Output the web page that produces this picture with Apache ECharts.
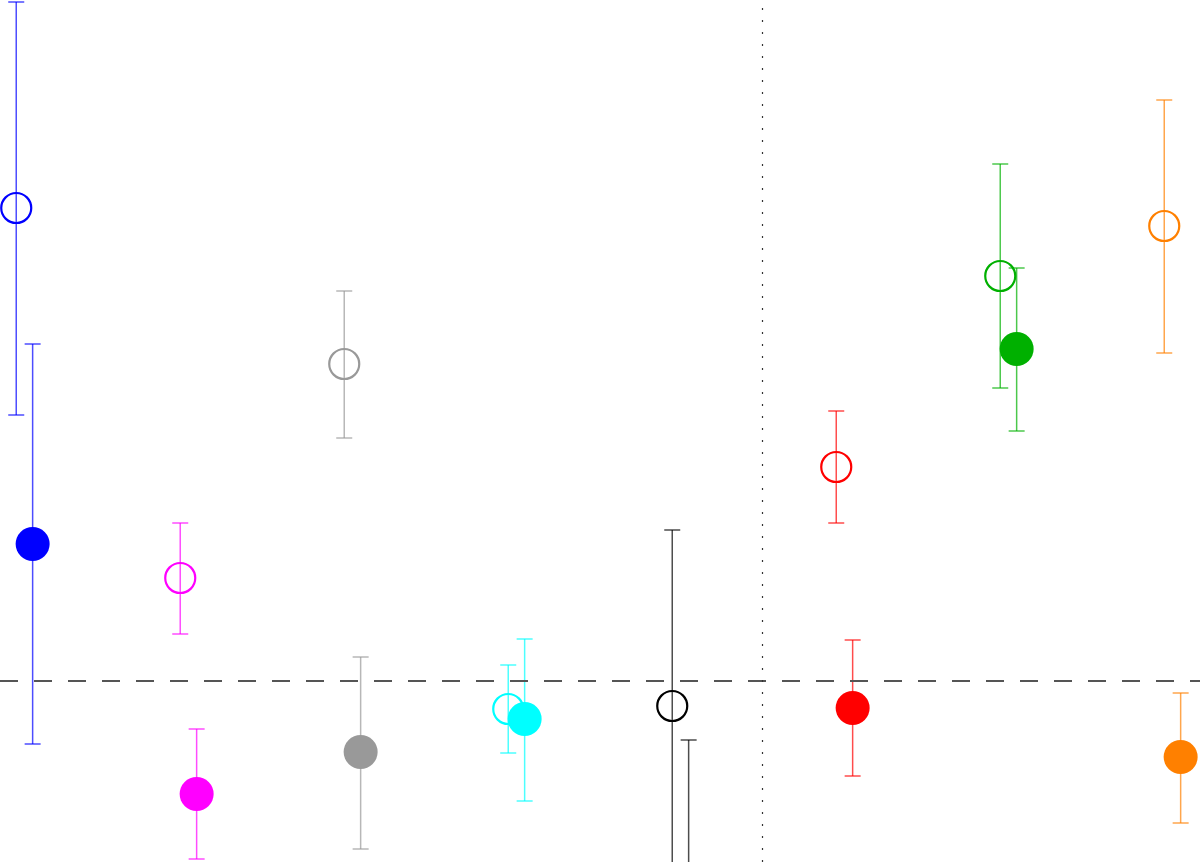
<!DOCTYPE html>
<html>
<head>
<meta charset="utf-8">
<script src="https://cdn.jsdelivr.net/npm/echarts@6/dist/echarts.min.js"></script>
<style>html,body{margin:0;padding:0;background:#fff;}#c{width:1200px;height:862px;}</style>
</head>
<body>
<div id="c"></div>
<script>
// groups (index positions along x), colours
const groups = [0, 1, 2, 3, 4, 5, 6, 7];
const colors = ['#0000ff', '#ff00ff', '#999999', '#00ffff', '#000000', '#ff0000', '#00b000', '#ff8000'];
// open markers: value, upper, lower
const openVal = [4.73, 1.03, 3.17, -0.28, -0.25, 2.14, 4.05, 4.55];
const openHi  = [6.79, 1.58, 3.90, 0.16, 1.51, 2.70, 5.17, 5.81];
const openLo  = [2.66, 0.47, 2.43, -0.72, -2.01, 1.58, 2.93, 3.28];
// filled markers: value, upper, lower
const fillVal = [1.37, -1.13, -0.71, -0.38, -2.3, -0.27, 3.32, -0.76];
const fillHi  = [3.37, -0.48, 0.24, 0.42, -0.59, 0.41, 4.13, -0.12];
const fillLo  = [-0.63, -1.78, -1.68, -1.20, -4.0, -0.95, 2.50, -1.42];
const offset = 0.05;
const divider = 4.5;

const errOpen = groups.map((g, i) => [g - offset, openLo[i], openHi[i], i]);
const errFill = groups.map((g, i) => [g + offset, fillLo[i], fillHi[i], i]);

function errRender(params, api) {
  const x = api.value(0);
  const lo = api.coord([x, api.value(1)]);
  const hi = api.coord([x, api.value(2)]);
  const c = colors[api.value(3)];
  const w = 8;
  const style = { stroke: c, lineWidth: 1.5, opacity: 0.7 };
  return {
    type: 'group',
    children: [
      { type: 'line', shape: { x1: lo[0], y1: lo[1], x2: hi[0], y2: hi[1] }, style: style },
      { type: 'line', shape: { x1: hi[0] - w, y1: hi[1], x2: hi[0] + w, y2: hi[1] }, style: style },
      { type: 'line', shape: { x1: lo[0] - w, y1: lo[1], x2: lo[0] + w, y2: lo[1] }, style: style }
    ]
  };
}

const chart = echarts.init(document.getElementById('c'));
chart.setOption({
  animation: false,
  backgroundColor: '#fff',
  grid: { left: 0, right: 0, top: 0, bottom: 0 },
  xAxis: { type: 'value', min: -0.149, max: 7.168, show: false },
  yAxis: { type: 'value', min: -1.81, max: 6.81, show: false },
  series: [
    {
      type: 'custom', renderItem: errRender, data: errOpen, z: 2, clip: true,
      encode: { x: 0, y: [1, 2] },
      markLine: {
        silent: true, symbol: 'none', label: { show: false },
        data: [
          { yAxis: 0, lineStyle: { color: '#555', width: 1.8, type: [18, 16] } },
          { xAxis: divider, lineStyle: { color: '#333', width: 1.2, type: [2, 10] } }
        ]
      }
    },
    { type: 'custom', renderItem: errRender, data: errFill, z: 2, clip: true, encode: { x: 0, y: [1, 2] } },
    {
      type: 'scatter', z: 3, symbol: 'circle', symbolSize: 30,
      data: groups.map((g, i) => ({
        value: [g - offset, openVal[i]],
        itemStyle: { color: 'rgba(0,0,0,0)', borderColor: colors[i], borderWidth: 2.2, opacity: 1 }
      }))
    },
    {
      type: 'scatter', z: 4, symbol: 'circle', symbolSize: 34,
      data: groups.map((g, i) => ({
        value: [g + offset, fillVal[i]],
        itemStyle: { color: colors[i], opacity: 1 }
      }))
    }
  ]
});
</script>
</body>
</html>
